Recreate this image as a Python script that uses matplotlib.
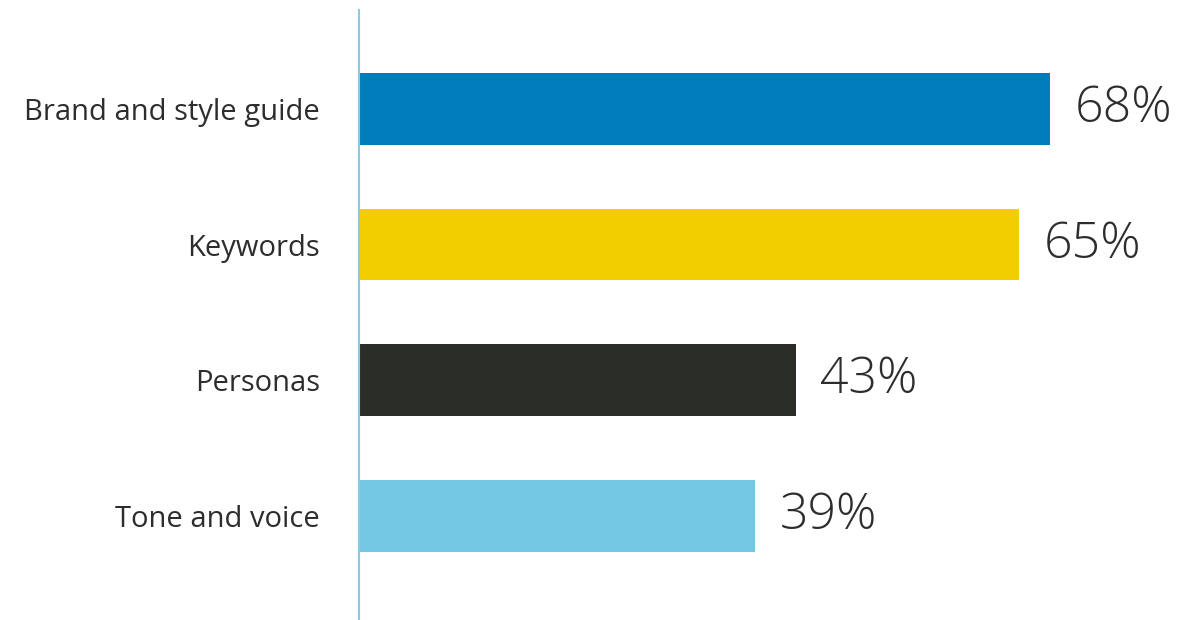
import matplotlib.pyplot as plt

# Survey results: which assets are shared with writers
categories = ["Brand and style guide", "Keywords", "Personas", "Tone and voice"]
values = [68, 65, 43, 39]
colors = ["#007DBA", "#F2CD00", "#2A2D28", "#74C7E1"]

plt.rcParams["font.family"] = ["Open Sans", "DejaVu Sans"]
text_color = "#2B2E2B"

fig = plt.figure(figsize=(11.77, 6.2), dpi=100)
ax = fig.add_axes([359 / 1177, 0, 1 - 359 / 1177, 610 / 620])

ypos = list(range(len(categories)))
ax.barh(ypos, values, height=0.53, color=colors, left=0)

for y, v in zip(ypos, values):
    ax.text(v + 2.4, y, f"{v}%", va="center", ha="left",
            fontsize=36, color=text_color, fontweight="light")

ax.set_xlim(0, 80.5)
ax.set_ylim(3.77, -0.73)
ax.set_yticks(ypos)
ax.set_yticklabels(categories, fontsize=21, color=text_color)
ax.tick_params(axis="y", length=0, pad=28)
ax.set_xticks([])

for side in ["top", "right", "bottom"]:
    ax.spines[side].set_visible(False)
ax.spines["left"].set_color("#8ACBE3")
ax.spines["left"].set_linewidth(1.5)

fig.savefig("out.png", dpi=100)
